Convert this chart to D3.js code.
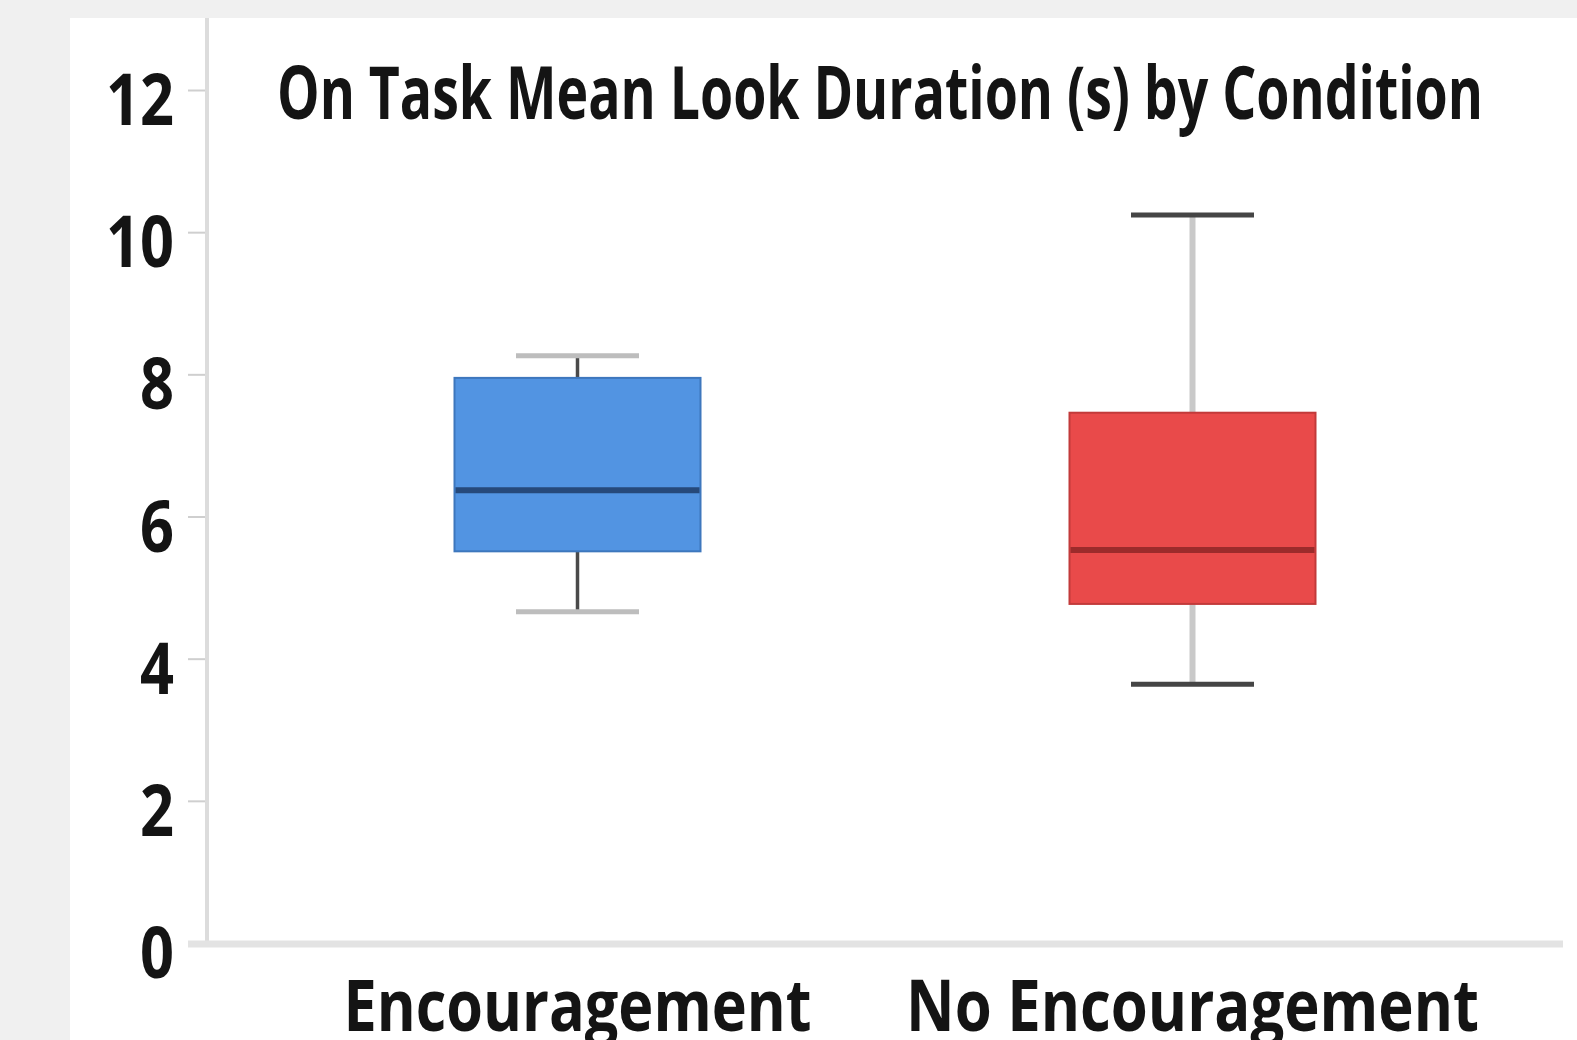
<!DOCTYPE html>
<html>
<head>
<meta charset="utf-8">
<script src="https://cdn.jsdelivr.net/npm/d3@7"></script>
<style>
  html, body { margin: 0; padding: 0; background: #f0f0f0; overflow: hidden; }
  text { font-family: "Open Sans", "Noto Sans", sans-serif; font-weight: 700; fill: #141414; }
</style>
</head>
<body>
<div id="chart"></div>
<script>
// values
const conditions = ["Encouragement", "No Encouragement"];
const whiskerLow = [4.66, 3.64];
const q1 = [5.51, 4.77];
const medians = [6.37, 5.53];
const q3 = [7.95, 7.46];
const whiskerHigh = [8.26, 10.24];
const yTicks = [0, 2, 4, 6, 8, 10, 12];
const titleText = "On Task Mean Look Duration (s) by Condition";

const fills = ["#5294e2", "#e94a4a"];
const edges = ["#3d77bd", "#c23a3a"];
const medianColors = ["#26497a", "#9c2b2b"];
const stemColors = ["#4a4a4a", "#c9c9c9"];
const capColors = ["#bdbdbd", "#454545"];

const renderBoxPlot = () => {
    const W = 1577, H = 1040;
    const svg = d3.select("#chart").append("svg").attr("width", W).attr("height", H);

    // white panel on grey page
    svg.append("rect").attr("x", 70).attr("y", 18).attr("width", W - 70).attr("height", H - 18).attr("fill", "#ffffff");

    const axisX = 207, axisY0 = 943, axisTop = 18, axisRight = 1563;

    const x = d3.scaleBand()
        .domain(conditions)
        .range([270, 1500])
        .paddingInner(0.6)
        .paddingOuter(0.3);

    const y = d3.scaleLinear()
        .domain([0, 12])
        .range([axisY0, 90]);

    const data = conditions.map((c, i) => ({
        c, i, lo: whiskerLow[i], q1: q1[i], med: medians[i], q3: q3[i], hi: whiskerHigh[i]
    }));

    // y axis
    const yAxis = svg.append("g")
        .attr("transform", `translate(${axisX},0)`)
        .call(d3.axisLeft(y).tickValues(yTicks).tickSize(19).tickPadding(14));
    yAxis.select(".domain").remove();
    yAxis.selectAll(".tick line").attr("stroke", "#cfcfcf").attr("stroke-width", 2);
    yAxis.selectAll(".tick text")
        .style("font-size", "72px")
        .style("font-family", "'Open Sans', sans-serif")
        .attr("fill", "#141414")
        .attr("dy", "0.48em")
        .attr("textLength", d => String(d).length * 34)
        .attr("lengthAdjust", "spacingAndGlyphs");

    svg.append("line")
        .attr("x1", axisX).attr("x2", axisX)
        .attr("y1", axisTop).attr("y2", axisY0)
        .attr("stroke", "#dcdcdc").attr("stroke-width", 4);

    svg.append("line")
        .attr("x1", 188).attr("x2", axisRight)
        .attr("y1", axisY0 + 1).attr("y2", axisY0 + 1)
        .attr("stroke", "#e3e3e3").attr("stroke-width", 7);

    // x labels
    const xWidths = [468, 573];
    svg.append("g").selectAll("text")
        .data(data)
        .enter().append("text")
        .attr("x", d => x(d.c) + x.bandwidth() / 2)
        .attr("y", 1031)
        .attr("text-anchor", "middle")
        .style("font-size", "72px")
        .attr("textLength", d => xWidths[d.i])
        .attr("lengthAdjust", "spacingAndGlyphs")
        .text(d => d.c);

    // boxes
    const g = svg.append("g");
    const bw = x.bandwidth();
    const boxes = g.selectAll(".box").data(data).enter().append("g").attr("class", "box");

    boxes.append("line")
        .attr("x1", d => x(d.c) + bw / 2).attr("x2", d => x(d.c) + bw / 2)
        .attr("y1", d => y(d.hi)).attr("y2", d => y(d.q3))
        .attr("stroke", d => stemColors[d.i]).attr("stroke-width", d => d.i ? 6 : 3.5);
    boxes.append("line")
        .attr("x1", d => x(d.c) + bw / 2).attr("x2", d => x(d.c) + bw / 2)
        .attr("y1", d => y(d.q1)).attr("y2", d => y(d.lo))
        .attr("stroke", d => stemColors[d.i]).attr("stroke-width", d => d.i ? 6 : 3.5);

    [["hi"], ["lo"]].forEach(([k]) => {
        boxes.append("line")
            .attr("x1", d => x(d.c) + bw / 4).attr("x2", d => x(d.c) + bw * 3 / 4)
            .attr("y1", d => y(d[k])).attr("y2", d => y(d[k]))
            .attr("stroke", d => capColors[d.i]).attr("stroke-width", 5);
    });

    boxes.append("rect")
        .attr("x", d => x(d.c))
        .attr("y", d => y(d.q3))
        .attr("width", bw)
        .attr("height", d => y(d.q1) - y(d.q3))
        .attr("fill", d => fills[d.i])
        .attr("stroke", d => edges[d.i])
        .attr("stroke-width", 2);

    boxes.append("line")
        .attr("x1", d => x(d.c) + 1).attr("x2", d => x(d.c) + bw - 1)
        .attr("y1", d => y(d.med)).attr("y2", d => y(d.med))
        .attr("stroke", d => medianColors[d.i]).attr("stroke-width", 6);

    // title
    svg.append("text")
        .attr("x", 880)
        .attr("y", 119)
        .attr("text-anchor", "middle")
        .style("font-size", "74px")
        .attr("textLength", 1206)
        .attr("lengthAdjust", "spacingAndGlyphs")
        .text(titleText);
};

renderBoxPlot();
</script>
</body>
</html>
